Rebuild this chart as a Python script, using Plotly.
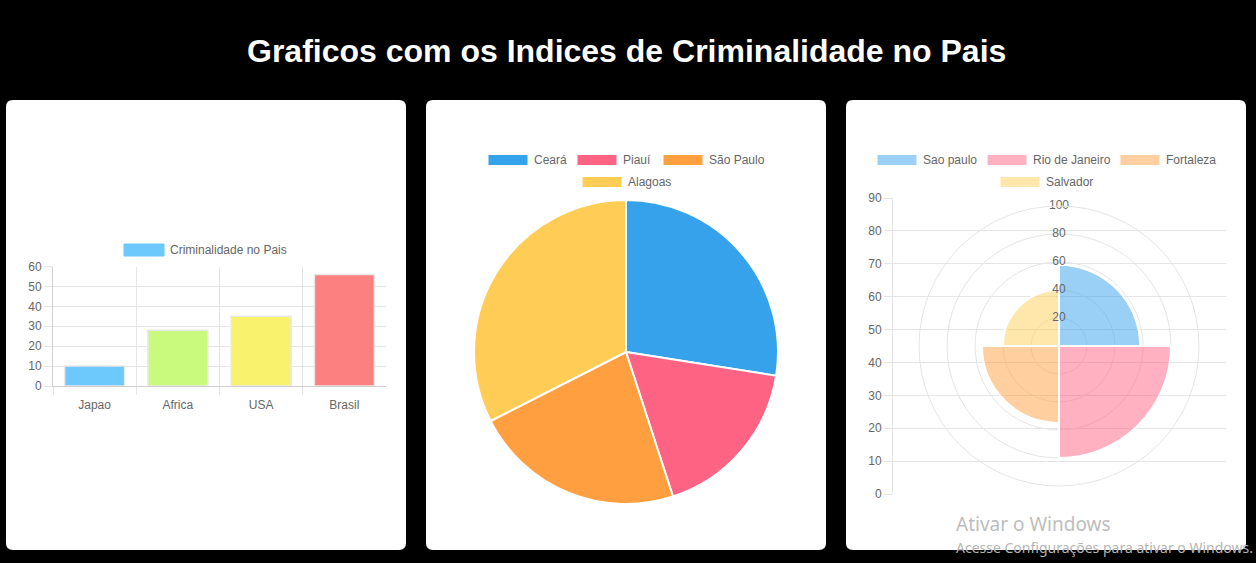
import plotly.graph_objects as go

# ---------------- data ----------------
paises = ["Japao", "Africa", "USA", "Brasil"]
criminalidade = [10, 28, 35, 56]
cores_paises = ["#6DC8FB", "#C9FA7E", "#F8F26C", "#FC8080"]
serie_barras = "Criminalidade no Pais"

estados = ["Ceará", "Piauí", "São Paulo", "Alagoas"]
valores_estados = [55, 35, 45, 65]
cores_estados = ["#36A2EB", "#FF6384", "#FF9F40", "#FFCD56"]

cidades = ["Sao paulo", "Rio de Janeiro", "Fortaleza", "Salvador"]
valores_cidades = [58, 80, 55, 40]
cores_cidades = ["rgba(54,162,235,0.5)", "rgba(255,99,132,0.5)",
                 "rgba(255,159,64,0.5)", "rgba(255,205,86,0.5)"]
raios_ticks = [20, 40, 60, 80, 100]

titulo = "Graficos com os Indices de Criminalidade no Pais"

# ---------------- helpers ----------------
W, H = 1256, 563
FONT = "Liberation Sans, Arial, Helvetica, sans-serif"
GRAY = "#666666"
GRID = "#e5e5e5"


def fx(x):
    return x / W


def fy(y):
    return 1 - y / H


def rrect(x0, y0, x1, y1, r):
    pts = [
        ("M", [(x0 + r, y0)]), ("L", [(x1 - r, y0)]), ("Q", [(x1, y0), (x1, y0 + r)]),
        ("L", [(x1, y1 - r)]), ("Q", [(x1, y1), (x1 - r, y1)]), ("L", [(x0 + r, y1)]),
        ("Q", [(x0, y1), (x0, y1 - r)]), ("L", [(x0, y0 + r)]), ("Q", [(x0, y0), (x0 + r, y0)]),
    ]
    s = ""
    for cmd, pp in pts:
        s += cmd + " " + " ".join(f"{fx(a):.6f},{fy(b):.6f}" for a, b in pp) + " "
    return s + "Z"


fig = go.Figure()

# ---------------- bar chart ----------------
fig.add_trace(go.Bar(
    x=paises, y=criminalidade, name=serie_barras,
    marker=dict(color=cores_paises, line=dict(color="#e8e8e8", width=1.5)),
    xaxis="x", yaxis="y", showlegend=False, hoverinfo="x+y",
))

# ---------------- pie chart ----------------
fig.add_trace(go.Pie(
    labels=estados, values=valores_estados, sort=False, direction="clockwise",
    rotation=0, textinfo="none", showlegend=False, automargin=False,
    marker=dict(colors=cores_estados, line=dict(color="white", width=2)),
    domain=dict(x=[fx(474), fx(778)], y=[fy(504), fy(200)]),
))

# ---------------- polar overlay cartesian axes ----------------
fig.add_trace(go.Scatter(x=[], y=[], xaxis="x2", yaxis="y2", showlegend=False))

# ---------------- polar area ----------------
n = len(cidades)
angulos = [360 / n * (i + 0.5) for i in range(n)]
fig.add_trace(go.Scatterpolar(
    r=raios_ticks, theta=[0] * len(raios_ticks), mode="text",
    text=[str(v) for v in raios_ticks],
    textfont=dict(family=FONT, size=12, color=GRAY),
    showlegend=False, hoverinfo="skip",
))
fig.add_trace(go.Barpolar(
    r=valores_cidades, theta=angulos, width=[360 / n] * n,
    marker=dict(color=cores_cidades, line=dict(color="white", width=2)),
    text=cidades, hoverinfo="text+r", showlegend=False,
))

# ---------------- cards ----------------
shapes = []
for (x0, x1) in [(6, 406), (426, 826), (846, 1246)]:
    shapes.append(dict(type="path", xref="paper", yref="paper", path=rrect(x0, 100, x1, 550, 7),
                       fillcolor="white", line=dict(width=0), layer="below"))

annotations = [dict(text=titulo, x=fx(626), y=fy(51), xref="paper", yref="paper",
                    showarrow=False, xanchor="center", yanchor="middle",
                    font=dict(family=FONT, size=32, color="white", weight="bold"))]


def legend_item(label, color, bx, by, bh=11, border=None):
    shapes.append(dict(type="rect", xref="paper", yref="paper",
                       x0=fx(bx), x1=fx(bx + 40), y0=fy(by + bh / 2), y1=fy(by - bh / 2),
                       fillcolor=color, line=dict(color=border or color, width=1), layer="above"))
    annotations.append(dict(text=label, x=fx(bx + 44), y=fy(by), xref="paper", yref="paper",
                            showarrow=False, xanchor="left", yanchor="middle",
                            font=dict(family=FONT, size=12, color=GRAY)))


# bar legend
legend_item(serie_barras, cores_paises[0], 124, 250, bh=12)
# pie legend
pie_pos = [(488, 160), (577, 160), (663, 160), (582, 182)]
for lab, col, (bx, by) in zip(estados, cores_estados, pie_pos):
    legend_item(lab, col, bx, by, border="white")
# polar legend
pol_pos = [(877, 160), (987, 160), (1120, 160), (1000, 182)]
for lab, col, (bx, by) in zip(cidades, cores_cidades, pol_pos):
    legend_item(lab, col, bx, by, border="white")

# windows watermark
annotations.append(dict(text="Ativar o Windows", x=fx(954), y=fy(524), xref="paper", yref="paper",
                        showarrow=False, xanchor="left", yanchor="middle",
                        font=dict(family="Noto Sans, Open Sans, sans-serif", size=19, color="#bdbdbd")))
annotations.append(dict(text="Acesse Configurações para ativar o Windows.", x=fx(954), y=fy(547),
                        xref="paper", yref="paper", showarrow=False, xanchor="left", yanchor="middle",
                        font=dict(family="Noto Sans, Open Sans, sans-serif", size=14, color="#b4b4b4")))

tickfont = dict(family=FONT, size=12, color=GRAY)

fig.update_layout(
    template="none",
    width=W, height=H, autosize=False, margin=dict(l=0, r=0, t=0, b=0, pad=0),
    paper_bgcolor="black", plot_bgcolor="rgba(0,0,0,0)",
    shapes=shapes, annotations=annotations, showlegend=False,
    bargap=0.28,
    xaxis=dict(domain=[fx(53), fx(386)], anchor="y", tickson="boundaries", ticks="outside",
               ticklen=8, tickcolor=GRID, showgrid=True, gridcolor=GRID, showline=True,
               linecolor="#d0d0d0", tickfont=tickfont, fixedrange=True, automargin=False,
               ticklabelstandoff=8),
    yaxis=dict(domain=[fy(386), fy(266.5)], anchor="x", range=[0, 60], dtick=10,
               ticks="outside", ticklen=8, tickcolor=GRID, gridcolor=GRID, showline=True,
               linecolor="#d0d0d0", zeroline=False, tickfont=tickfont, fixedrange=True,
               automargin=False),
    xaxis2=dict(domain=[fx(893), fx(1226)], anchor="y2", range=[0, 1], visible=False,
                automargin=False),
    yaxis2=dict(domain=[fy(494), fy(198)], anchor="x2", range=[0, 90], dtick=10,
                ticks="outside", ticklen=8, tickcolor=GRID, gridcolor=GRID, showline=True,
                linecolor=GRID, zeroline=False, tickfont=tickfont, fixedrange=True,
                automargin=False),
    polar=dict(
        domain=dict(x=[fx(919), fx(1199)], y=[fy(486), fy(206)]),
        bgcolor="rgba(0,0,0,0)", bargap=0,
        radialaxis=dict(range=[0, 100], tickvals=raios_ticks, showticklabels=False,
                        ticks="", showline=False, gridcolor=GRID),
        angularaxis=dict(rotation=90, direction="clockwise", showgrid=False,
                         showticklabels=False, ticks="", showline=True, linecolor=GRID),
    ),
)

fig.write_html(
    "out.html",
    config={"displayModeBar": False, "responsive": False},
    default_width="1256px", default_height="563px",
    post_script="document.documentElement.style.margin='0';document.body.style.margin='0';"
                "document.body.style.padding='0';document.body.style.overflow='hidden';"
                "document.body.style.background='black';",
)
